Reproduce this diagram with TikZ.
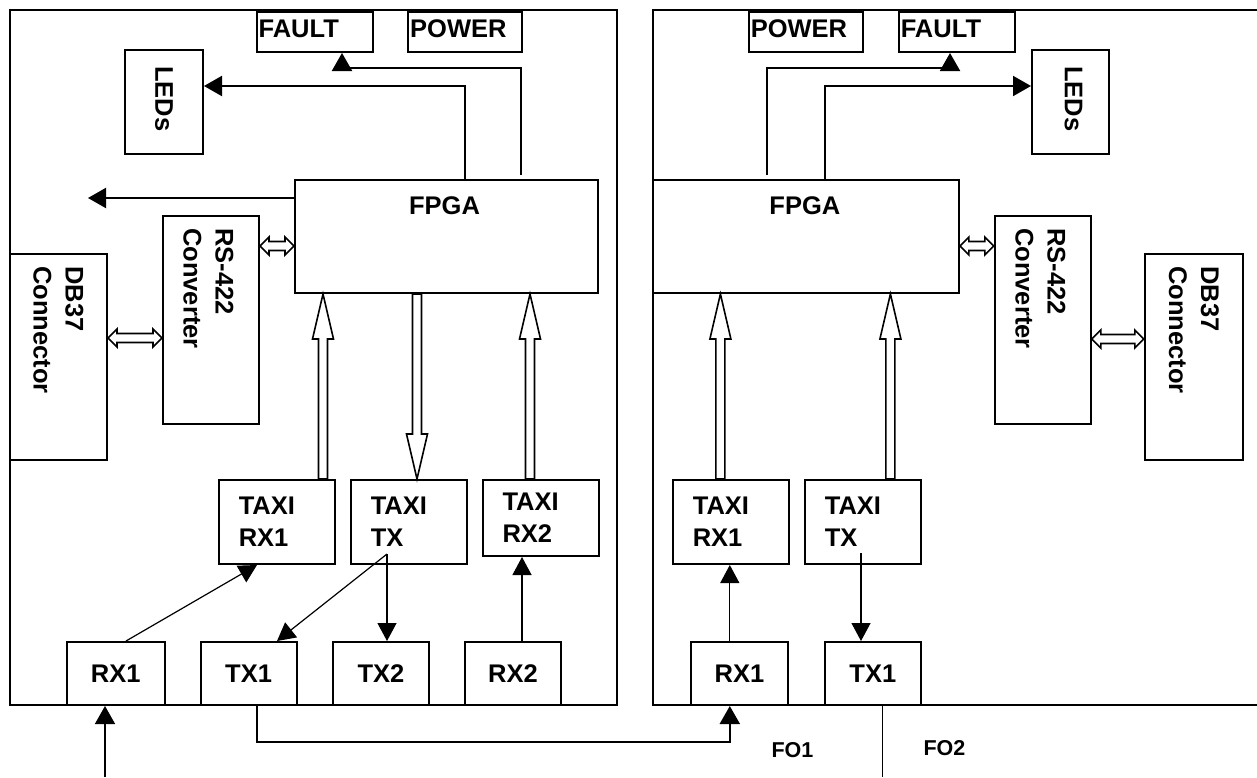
\documentclass[tikz,border=0pt]{standalone}
\usepackage{fontspec}
\setmainfont{Liberation Sans}
\usetikzlibrary{arrows.meta, calc}

\tikzset{
  sz/.style 2 args={minimum width=#1pt, minimum height=#2pt},
  box/.style={draw, line width=2pt, inner sep=0pt},
  tag/.style={box, align=left, inner xsep=2pt, text depth=6pt},
  taxi/.style={box, align=left, text width=76pt},
  vtxt/.style={rotate=-90, anchor=west, align=left, inner sep=0pt},
  hollow/.style={draw, fill=white, line width=1.6pt},
  arr/.style={line width=2pt, -{Triangle[length=18pt, width=20pt]}},
  thinarr/.style={line width=1.2pt, -{Triangle[length=18pt, width=19pt]}}
}

% block arrows built from the two end points
\newcommand{\hollowup}[2]{%
  \draw[hollow] let \p1=#1, \p2=#2 in
    ({\x1-4.5pt},\y1) -- ({\x1-4.5pt},{\y2-45pt}) -- ({\x1-10.5pt},{\y2-45pt}) -- (\p2)
    -- ({\x1+10.5pt},{\y2-45pt}) -- ({\x1+4.5pt},{\y2-45pt}) -- ({\x1+4.5pt},\y1) -- cycle;}
\newcommand{\hollowdown}[2]{%
  \draw[hollow] let \p1=#1, \p2=#2 in
    ({\x1-4.5pt},\y1) -- ({\x1-4.5pt},{\y2+45pt}) -- ({\x1-10.5pt},{\y2+45pt}) -- (\p2)
    -- ({\x1+10.5pt},{\y2+45pt}) -- ({\x1+4.5pt},{\y2+45pt}) -- ({\x1+4.5pt},\y1) -- cycle;}
\newcommand{\hollowboth}[2]{%
  \draw[hollow] let \p1=#1, \p2=#2 in
    (\p1) -- ({\x1+9pt},{\y1+9pt}) -- ({\x1+9pt},{\y1+4.5pt}) -- ({\x2-9pt},{\y1+4.5pt})
    -- ({\x2-9pt},{\y1+9pt}) -- (\p2) -- ({\x2-9pt},{\y1-9pt}) -- ({\x2-9pt},{\y1-4.5pt})
    -- ({\x1+9pt},{\y1-4.5pt}) -- ({\x1+9pt},{\y1-9pt}) -- cycle;}

\begin{document}
\begin{tikzpicture}[x=1pt, y=-1pt,
    every node/.style={font=\bfseries\fontsize{25.5}{32}\selectfont}]
    \useasboundingbox (0,0) rectangle (1257,777);

    % left board
    \node[box, sz={607}{695}] (boardL) at (313.5,357.5) {};
    \node[tag, text width=112pt, sz={116}{40}] (faultL) at (314.6,32) {FAULT};
    \node[tag, text width=110pt, sz={114}{40}] (powerL) at (465.2,32) {POWER};
    \node[box, sz={78}{104}] (ledsL) at (164,102) {};
    \node[box, sz={303}{113}] (fpgaL) at (446.5,236.5) {};
    \node[box, sz={96}{208}] (rsL) at (211,320) {};
    \node[box, sz={97}{206}] (dbL) at (58.5,357) {};
    \node[taxi, sz={116}{84}] (taxirx1L) at (276.8,522) {TAXI\\RX1};
    \node[taxi, sz={116}{84}] (taxitxL) at (408.8,522) {TAXI\\TX};
    \node[taxi, sz={116}{76}] (taxirx2L) at (540.5,518) {TAXI\\RX2};
    \node[box, sz={98}{63}] (rx1L) at (115.7,673.5) {RX1};
    \node[box, sz={96}{63}] (tx1L) at (248.6,673.5) {TX1};
    \node[box, sz={96}{63}] (tx2L) at (380.9,673.5) {TX2};
    \node[box, sz={96}{63}] (rx2L) at (513,673.5) {RX2};

    \node[anchor=base] (fpgaLtxt) at ($(fpgaL.north)+(-2,35)$) {FPGA};
    \node[vtxt] (ledsLtxt) at ($(ledsL.north)+(0,17)$) {LEDs};
    \node[vtxt] (rsLtxt) at ($(rsL.north)+(-2.5,13)$) {RS-422\\Converter};
    \node[vtxt] (dbLtxt) at ($(dbL.north)+(0,13)$) {DB37\\Connector};

    % right board
    \node[box, sz={609}{695}] (boardR) at (957.5,357.5) {};
    \node[tag, text width=110pt, sz={114}{40}] (powerR) at (805.8,32) {POWER};
    \node[tag, text width=112pt, sz={116}{40}] (faultR) at (956.8,32) {FAULT};
    \node[box, sz={77}{104}] (ledsR) at (1070.5,102) {};
    \node[box, sz={306}{113}] (fpgaR) at (805.9,236.5) {};
    \node[box, sz={96}{208}] (rsR) at (1042.8,320) {};
    \node[box, sz={98}{206}] (dbR) at (1193.8,357) {};
    \node[taxi, sz={116}{84}] (taxirx1R) at (730.8,522) {TAXI\\RX1};
    \node[taxi, sz={116}{84}] (taxitxR) at (862.8,522) {TAXI\\TX};
    \node[box, sz={97}{63}] (rx1R) at (739.5,673.5) {RX1};
    \node[box, sz={96}{63}] (tx1R) at (872.8,673.5) {TX1};

    \node[anchor=base] (fpgaRtxt) at ($(fpgaR.north)+(-1,35)$) {FPGA};
    \node[vtxt] (ledsRtxt) at ($(ledsR.north)+(3,17)$) {LEDs};
    \node[vtxt] (rsRtxt) at ($(rsR.north)+(-2.5,13)$) {RS-422\\Converter};
    \node[vtxt] (dbRtxt) at ($(dbR.north)+(0,13)$) {DB37\\Connector};

    \node[anchor=base west, font=\bfseries\fontsize{21.5}{25}\selectfont] (fo1) at (768,757) {FO1};
    \node[anchor=base west, font=\bfseries\fontsize{21.5}{25}\selectfont] (fo2) at (920,755) {FO2};

    \coordinate (outL) at (88,198);
    \coordinate (inL) at (105,777);
    \coordinate (splitL) at (387,554);
    \coordinate (splitR) at (861,553);
    \coordinate (fo2end) at (882,777);

    % FPGA to LEDs
    \draw[arr] (fpgaL.north -| 465,0) |- (ledsL.east |- 0,86);
    \draw[arr, shorten <=4pt] (fpgaL.north -| 520.5,0) |- (342,68) -- (faultL.south -| 342,0);
    \draw[arr] (fpgaL.west |- outL) -- (outL);
    \draw[arr, shorten <=4pt] (fpgaR.north -| 766.8,0) |- (950,68) -- (faultR.south -| 950,0);
    \draw[arr] (fpgaR.north -| 824.8,0) |- (ledsR.west |- 0,86);

    % buses
    \hollowboth{(rsL.east |- 0,246)}{(fpgaL.west |- 0,246)}
    \hollowboth{(dbL.east |- 0,338)}{(rsL.west |- 0,338)}
    \hollowboth{(fpgaR.east |- 0,246)}{(rsR.west |- 0,246)}
    \hollowboth{(rsR.east |- 0,339)}{(dbR.west |- 0,339)}
    \hollowup{(taxirx1L.north -| 323,0)}{(fpgaL.south -| 323,0)}
    \hollowdown{(fpgaL.south -| 417,0)}{(taxitxL.north -| 417,0)}
    \hollowup{(taxirx2L.north -| 530,0)}{(fpgaL.south -| 530,0)}
    \hollowup{(taxirx1R.north -| 720.4,0)}{(fpgaR.south -| 720.4,0)}
    \hollowup{(taxitxR.north -| 890.4,0)}{(fpgaR.south -| 890.4,0)}

    % optical side
    \draw[thinarr] (rx1L.north -| 126,0) -- (taxirx1L.south -| 257,0);
    \draw[thinarr] (splitL) -- (tx1L.north -| 277,0);
    \draw[thinarr] (splitL) -- (tx2L.north -| 387,0);
    \draw[thinarr] (rx2L.north -| 522,0) -- (taxirx2L.south -| 522,0);
    \draw[thinarr] (rx1R.north -| 729.8,0) -- (taxirx1R.south -| 729.8,0);
    \draw[thinarr] (splitR) -- (tx1R.north -| 861,0);

    \draw[arr, line width=1.5pt] (inL) -- (rx1L.south -| inL);
    \draw[arr] (tx1L.south -| 256.6,0) |- (729.8,742) -- (rx1R.south -| 729.8,0);
    \draw[line width=1pt] (tx1R.south -| fo2end) -- (fo2end);
\end{tikzpicture}
\end{document}
